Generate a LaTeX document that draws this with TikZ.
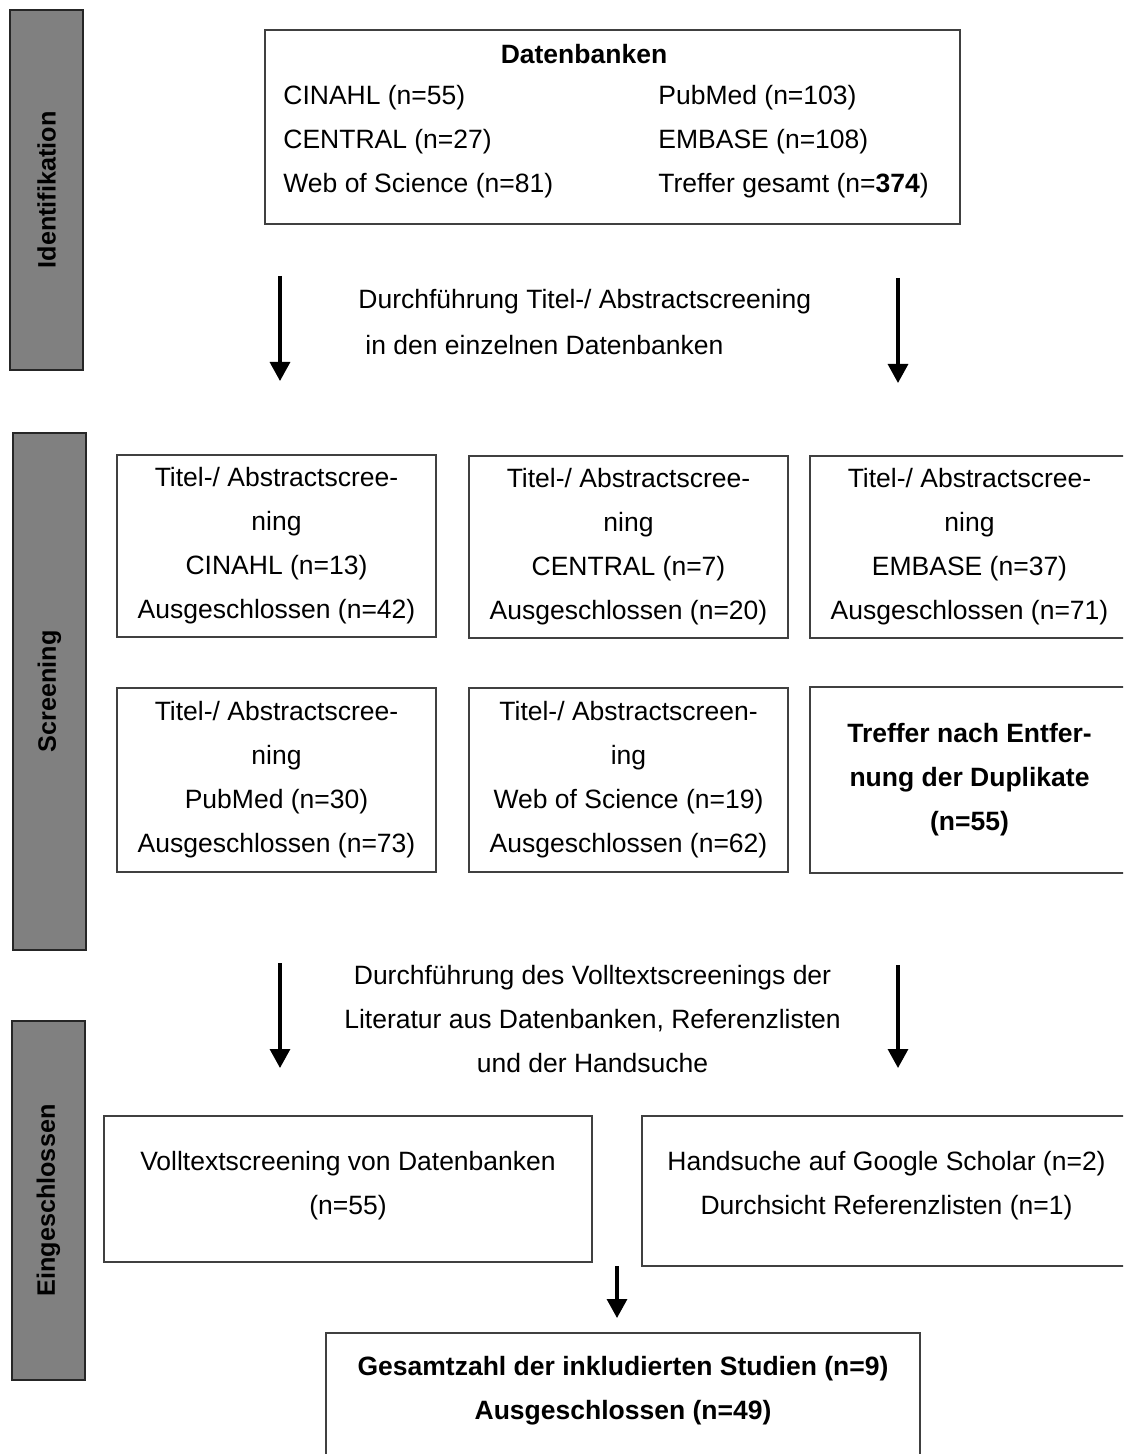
\documentclass[tikz,border=0pt]{standalone}
\usepackage{fontspec}
\setmainfont{Liberation Sans}
\usetikzlibrary{arrows.meta}
\begin{document}
\begin{tikzpicture}[x=0.5pt,y=-0.5pt,
  bar/.style={draw=black!85, fill=black!50, line width=0.9pt, rotate=90, inner sep=0pt,
    font=\fontsize{12.6}{15}\selectfont\bfseries},
  box/.style={draw=black!75, line width=1pt, align=center, inner sep=0pt,
    font=\fontsize{13.25}{22}\selectfont},
  txt/.style={font=\fontsize{13.25}{22}\selectfont, inner sep=0pt},
  arr/.style={line width=1.6pt, -{Triangle[length=9.5pt,width=10pt]}}]
\useasboundingbox (0,0) rectangle (1123,1454);
\clip (0,0) rectangle (1123,1454);
% side bars
\node[bar, minimum width=180pt, minimum height=36.5pt] (barI) at (46.5,190) {Identifikation};
\node[bar, minimum width=258.5pt, minimum height=36.5pt] (barS) at (49.5,691.5) {Screening};
\node[bar, minimum width=179.5pt, minimum height=36.5pt] (barE) at (48.5,1200.5) {Eingeschlossen};
% databases box
\node[box, minimum width=347.5pt, minimum height=97pt] (db) at (612.5,127) {};
\node[txt, font=\fontsize{13.25}{22}\selectfont\bfseries] (dbt) at (584,54) {Datenbanken};
\node[txt, anchor=west] (d1) at (283,98) {CINAHL (n=55)};
\node[txt, anchor=west] (d2) at (283,142) {CENTRAL (n=27)};
\node[txt, anchor=west] (d3) at (283,186) {Web of Science (n=81)};
\node[txt, anchor=west] (d4) at (658,98) {PubMed (n=103)};
\node[txt, anchor=west] (d5) at (658,142) {EMBASE (n=108)};
\node[txt, anchor=west] (d6) at (658,186) {Treffer gesamt (n=\textbf{374})};
% first arrows
\coordinate (a1s) at (280,276); \coordinate (a1e) at (280,381);
\coordinate (a2s) at (898,278); \coordinate (a2e) at (898,383);
\draw[arr] (a1s) -- (a1e);
\draw[arr] (a2s) -- (a2e);
\node[txt, anchor=west] (t1) at (358,302) {Durchführung Titel-/ Abstractscreening};
\node[txt, anchor=west] (t2) at (365,345) {in den einzelnen Datenbanken};
% screening boxes
\node[box, minimum width=159.5pt, minimum height=91pt] (b1) at (276.5,546)
  {Titel-/ Abstractscree-\\ning\\CINAHL (n=13)\\Ausgeschlossen (n=42)};
\node[box, minimum width=159.5pt, minimum height=91pt] (b2) at (628.5,547)
  {Titel-/ Abstractscree-\\ning\\CENTRAL (n=7)\\Ausgeschlossen (n=20)};
\node[box, minimum width=159.5pt, minimum height=91pt] (b3) at (969.5,547)
  {Titel-/ Abstractscree-\\ning\\EMBASE (n=37)\\Ausgeschlossen (n=71)};
\node[box, minimum width=159.5pt, minimum height=92pt] (b4) at (276.5,780)
  {Titel-/ Abstractscree-\\ning\\PubMed (n=30)\\Ausgeschlossen (n=73)};
\node[box, minimum width=159.5pt, minimum height=92pt] (b5) at (628.5,780)
  {Titel-/ Abstractscreen-\\ing\\Web of Science (n=19)\\Ausgeschlossen (n=62)};
\node[box, minimum width=159.5pt, minimum height=93pt, font=\fontsize{13.25}{22}\selectfont\bfseries] (b6) at (969.5,780)
  {Treffer nach Entfer-\\nung der Duplikate\\(n=55)};
% second arrows
\coordinate (a3s) at (280,963); \coordinate (a3e) at (280,1068);
\coordinate (a4s) at (898,965); \coordinate (a4e) at (898,1068);
\draw[arr] (a3s) -- (a3e);
\draw[arr] (a4s) -- (a4e);
\node[txt, align=center] (t3) at (592.5,1019)
  {Durchführung des Volltextscreenings der\\Literatur aus Datenbanken, Referenzlisten\\und der Handsuche};
% included
\node[box, minimum width=244pt, minimum height=73pt] (b7) at (348,1189)
  {Volltextscreening von Datenbanken\\(n=55)\\[-16pt]\mbox{}};
\node[box, minimum width=244.5pt, minimum height=75pt] (b8) at (886.5,1191)
  {Handsuche auf Google Scholar (n=2)\\Durchsicht Referenzlisten (n=1)\\[-14pt]\mbox{}};
\coordinate (a5s) at (617,1266); \coordinate (a5e) at (617,1318);
\draw[arr] (a5s) -- (a5e);
\node[box, minimum width=297pt, minimum height=77pt, font=\fontsize{13.25}{22}\selectfont\bfseries] (b9) at (623,1410)
  {Gesamtzahl der inkludierten Studien (n=9)\\Ausgeschlossen (n=49)\\\mbox{}};
\end{tikzpicture}
\end{document}
